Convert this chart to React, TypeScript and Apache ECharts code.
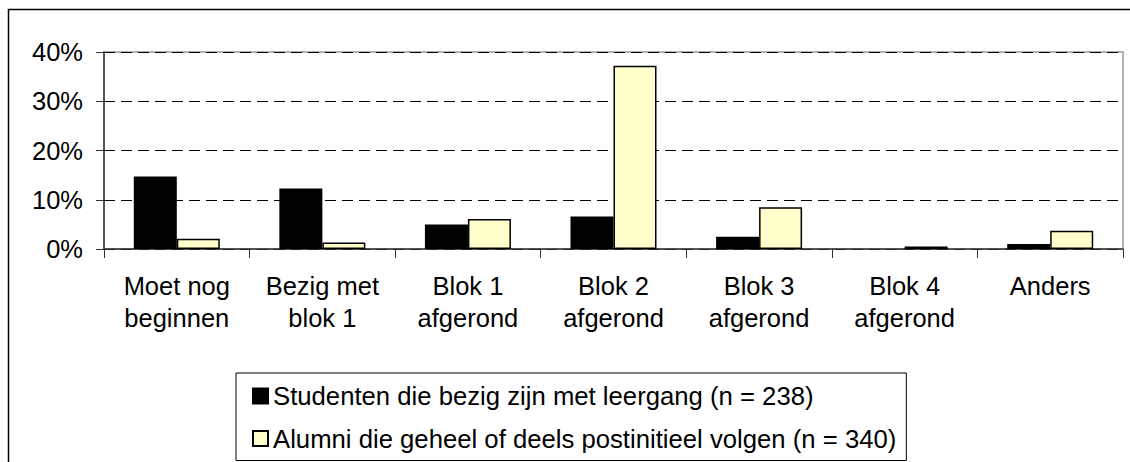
import React, { useEffect, useRef } from "react";
import * as echarts from "echarts";

const categories = [
  "Moet nog\nbeginnen",
  "Bezig met\nblok 1",
  "Blok 1\nafgerond",
  "Blok 2\nafgerond",
  "Blok 3\nafgerond",
  "Blok 4\nafgerond",
  "Anders",
];
const studentenValues = [14.7, 12.3, 5.0, 6.6, 2.5, 0, 1.0];
const alumniValues = [2.1, 1.3, 6.1, 37.2, 8.5, 0.5, 3.7];
const seriesNames = [
  "Studenten die bezig zijn met leergang (n = 238)",
  "Alumni die geheel of deels postinitieel volgen (n = 340)",
];
const yMin = 0;
const yMax = 40;
const yInterval = 10;

const FONT = "'Liberation Sans', Arial, sans-serif";

const toBarData = (vals: number[]) =>
  vals.map((v) => (v === 0 ? { value: v, itemStyle: { borderWidth: 0 } } : v));

export default function App() {
  const ref = useRef<HTMLDivElement>(null);
  useEffect(() => {
    document.body.style.margin = "0";
    if (!ref.current) return;
    const chart = echarts.init(ref.current, undefined, { renderer: "svg" });
    chart.setOption({
      animation: false,
      backgroundColor: "#fff",
      textStyle: { fontFamily: FONT },
      graphic: [
        {
          type: "rect",
          shape: { x: 8.5, y: 9.5, width: 1300, height: 700 },
          style: { fill: "none", stroke: "#000", lineWidth: 1.5 },
          silent: true,
          z: -1,
        },
      ],
      grid: {
        left: 104,
        top: 52,
        right: 7,
        bottom: 213,
        show: true,
        borderColor: "#9a9a9a",
        borderWidth: 1.5,
        backgroundColor: "transparent",
      },
      legend: {
        left: 236,
        top: 373,
        orient: "vertical",
        backgroundColor: "#fff",
        borderColor: "#000",
        borderWidth: 1,
        padding: [8, 10, 7, 16],
        itemGap: 12.5,
        itemWidth: 15,
        itemHeight: 15,
        icon: "rect",
        textStyle: {
          fontFamily: FONT,
          fontSize: 25.7,
          color: "#000",
          lineHeight: 30,
        },
        data: seriesNames,
      },
      xAxis: {
        type: "category",
        data: categories,
        axisLine: { lineStyle: { color: "#333", width: 1.5 } },
        axisTick: { show: true, length: 9, lineStyle: { color: "#333" } },
        axisLabel: {
          margin: 21,
          fontFamily: FONT,
          fontSize: 25.5,
          lineHeight: 32,
          color: "#000",
          interval: 0,
        },
        splitLine: { show: false },
      },
      yAxis: {
        type: "value",
        min: yMin,
        max: yMax,
        interval: yInterval,
        axisLine: { show: true, lineStyle: { color: "#333", width: 1.5 } },
        axisTick: { show: true, length: 8, lineStyle: { color: "#333" } },
        axisLabel: {
          formatter: "{value}%",
          margin: 21,
          fontFamily: FONT,
          fontSize: 25.5,
          color: "#000",
        },
        splitLine: {
          show: true,
          lineStyle: { color: "#000", type: [11, 6], width: 1 },
        },
      },
      series: [
        {
          name: seriesNames[0],
          type: "bar",
          data: toBarData(studentenValues),
          barWidth: 43,
          barGap: "0%",
          itemStyle: { color: "#000", borderColor: "#000", borderWidth: 1.5 },
        },
        {
          name: seriesNames[1],
          type: "bar",
          data: toBarData(alumniValues),
          barWidth: 43,
          barGap: "0%",
          itemStyle: { color: "#FFFFCC", borderColor: "#000", borderWidth: 1.5 },
        },
      ],
    });
    return () => chart.dispose();
  }, []);
  return <div ref={ref} style={{ width: 1130, height: 462 }} />;
}
